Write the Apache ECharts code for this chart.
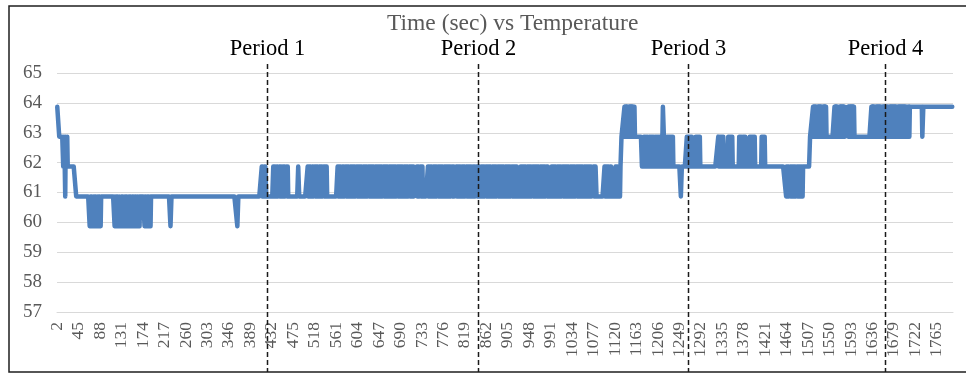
<!DOCTYPE html>
<html><head><meta charset="utf-8">
<script src="https://cdn.jsdelivr.net/npm/echarts@6/dist/echarts.min.js"></script>
<style>html,body{margin:0;padding:0;background:#fff}#c{width:966px;height:376px}</style>
</head><body><div id="c"></div>
<script>
// ---- data ----
const chartTitle = 'Time (sec) vs Temperature';
const firstSecond = 2;          // first category on the time axis
const secondCount = 1796;       // one reading per second: 2 .. 1797
const labelEvery = 43;          // tick labels: 2, 45, 88, ... 1765
const yMin = 57, yMax = 65, yStep = 1;
// temperature levels seen in the trace (code 0..4)
const levelTemps = [59.87, 60.87, 61.87, 62.87, 63.87];
// [start index, level codes per second]; the last code holds until the next piece
const tempPieces = [
  [0, '4'],
  [4, '3'],
  [12, '233213323'],
  [21, '2'],
  [38, '1'],
  [65, '00101101001011010010110'],
  [88, '1'],
  [115, '0100101101000010110100101101001010010'],
  [152, '1'],
  [155, '01011010010'],
  [166, '1'],
  [175, '0101001011010'],
  [188, '1'],
  [227, '00'],
  [229, '1'],
  [361, '00'],
  [363, '1'],
  [410, '212212122'],
  [419, '1'],
  [433, '2121221212112121221212121122121'],
  [464, '1'],
  [483, '22'],
  [485, '1'],
  [502, '2121212212121121212122121212121121212121'],
  [542, '1'],
  [562, '21212122121212112121' + '21221212121212121121' + '21212121221212121212' + '11212121212122121212' +
         '12121212121121212121' + '22121212121212121211' + '21212121212212121212' + '1211212121212'],
  [715, '1'],
  [721, '212121121212'],
  [733, '1'],
  [743, '2121212122' + '1212121211' + '2121212121' + '2212121212' + '1212121121' + '2121'],
  [797, '1'],
  [800, '2121212122' + '1212121211' + '2121212121' + '22121212'],
  [838, '1'],
  [841, '2121212212' + '1212121121' + '2121212122' + '1212121212' + '1121212121' + '2121221212' + '1212121211' + '2121212121' + '21'],
  [923, '1'],
  [929, '2121212121' + '2212121212' + '1211212121' + '2121212212' + '1212121212' + '112121'],
  [985, '1'],
  [991, '2121212122' + '1212121212' + '1121212121' + '2121221212' + '1212121211' + '2121212121' + '2122121212' + '1212121212'],
  [1071, '1'],
  [1075, '212122'],
  [1081, '1'],
  [1097, '21212121221212'],
  [1111, '1'],
  [1119, '212121212122'],
  [1131, '3'],
  [1137, '434343443434343434434'],
  [1158, '3'],
  [1172, '2'],
  [1176, '3232323232' + '2323232323' + '3232323232' + '32323' + '3234432' + '32323232323232323'],
  [1235, '2'],
  [1250, '11'],
  [1252, '2'],
  [1262, '32323232323'],
  [1273, '2'],
  [1280, '323232323'],
  [1289, '2'],
  [1325, '32323232323'],
  [1336, '2'],
  [1345, '323232323'],
  [1354, '2'],
  [1367, '3232322232323'],
  [1380, '2'],
  [1388, '32323232323'],
  [1399, '2'],
  [1412, '3232323'],
  [1419, '2'],
  [1461, '1212121121' + '2121212122' + '1121212121' + '21212'],
  [1496, '2'],
  [1509, '3'],
  [1515, '43434' + '34434' + '34343' + '43443' + '43434' + '34'],
  [1542, '3'],
  [1558, '43434343'],
  [1566, '3'],
  [1568, '43434343434'],
  [1579, '3'],
  [1585, '43434343434343'],
  [1599, '3'],
  [1632, '4343434434' + '3434343434' + '4343434343' + '3434434343' + '4343434343' + '4434343434' + '3434343434' + '4343343'],
  [1709, '4'],
  [1734, '33'],
  [1736, '4']
];
// vertical period markers (time category where each dashed line sits)
const periodSeconds = ['422', '845', '1266', '1661'];
const periodLabels = ['Period 1', 'Period 2', 'Period 3', 'Period 4'];

// ---- build arrays ----
const categories = [];
for (let s = firstSecond; s < firstSecond + secondCount; s++) categories.push(String(s));
const temps = new Array(secondCount);
for (let k = 0; k < tempPieces.length; k++) {
  const start = tempPieces[k][0], codes = tempPieces[k][1];
  const end = k + 1 < tempPieces.length ? tempPieces[k + 1][0] : secondCount;
  for (let i = start; i < end; i++) {
    temps[i] = levelTemps[+codes[Math.min(i - start, codes.length - 1)]];
  }
}

const serif = '"Liberation Serif", "Times New Roman", serif';
const chart = echarts.init(document.getElementById('c'), null, {renderer: 'canvas'});
chart.setOption({
  animation: false,
  backgroundColor: '#fff',
  title: {
    text: chartTitle, left: 387, top: 12, padding: 0,
    textStyle: {fontFamily: serif, fontSize: 23.5, fontWeight: 'normal', color: '#595959'}
  },
  grid: {left: 57, right: 13, top: 73, bottom: 64, outerBoundsMode: 'none'},
  xAxis: {
    type: 'category', data: categories, boundaryGap: true,
    axisTick: {show: false},
    axisLine: {show: true, lineStyle: {color: '#d9d9d9', width: 1}},
    axisLabel: {interval: labelEvery - 1, rotate: 90, margin: 10, fontFamily: serif, fontSize: 17.5, color: '#595959'},
    splitLine: {show: false}
  },
  yAxis: {
    type: 'value', min: yMin, max: yMax, interval: yStep,
    axisLine: {show: false}, axisTick: {show: false},
    axisLabel: {margin: 15, fontFamily: serif, fontSize: 19, color: '#595959'},
    splitLine: {lineStyle: {color: '#d9d9d9', width: 1}}
  },
  series: [{
    type: 'line', data: temps, symbol: 'none', showSymbol: false,
    lineStyle: {color: '#4F81BD', width: 4.5, join: 'round', cap: 'round'},
    itemStyle: {color: '#4F81BD'}, emphasis: {disabled: true}
  }]
});

const gfx = [{
  type: 'rect', silent: true, z: 100,
  shape: {x: 9, y: 6, width: 1000, height: 366},
  style: {fill: 'none', stroke: '#1f1f1f', lineWidth: 1.5}
}];
periodSeconds.forEach(function (s, k) {
  const px = Math.round(chart.convertToPixel({xAxisIndex: 0}, s)) + 0.5;
  gfx.push({type: 'line', silent: true, z: 100,
    shape: {x1: px, y1: 64, x2: px, y2: 372},
    style: {stroke: '#1a1a1a', lineWidth: 1.5, lineDash: [5, 3]}});
  gfx.push({type: 'text', silent: true, z: 100, x: px, y: 49,
    style: {text: periodLabels[k], font: '22.5px ' + serif, fill: '#000',
            align: 'center', textAlign: 'center', verticalAlign: 'middle', textVerticalAlign: 'middle'}});
});
chart.setOption({graphic: gfx});
</script>
</body></html>
